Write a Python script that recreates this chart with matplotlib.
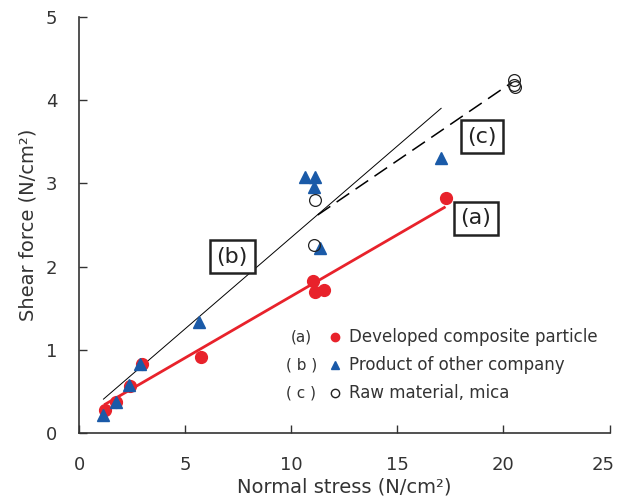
import matplotlib
matplotlib.use("Agg")
import matplotlib.pyplot as plt
import matplotlib.transforms as mtransforms

plt.rcParams['font.family'] = ['DejaVu Sans', 'Noto Sans CJK JP']

# (a) Developed composite particle
a_x = [1.22, 1.71, 2.38, 2.98, 5.76, 11.04, 11.09, 11.54, 17.31]
a_y = [0.28, 0.38, 0.57, 0.83, 0.92, 1.83, 1.70, 1.72, 2.82]
# (b) Product of other company
b_x = [1.12, 1.71, 2.36, 2.88, 5.66, 10.64, 11.12, 11.07, 11.34, 17.06]
b_y = [0.22, 0.38, 0.58, 0.83, 1.34, 3.08, 3.08, 2.96, 2.22, 3.30]
# (c) Raw material, mica
c_x = [11.12, 11.07, 20.49, 20.51, 20.55]
c_y = [2.80, 2.26, 4.24, 4.18, 4.16]

# fitted lines (end points)
a_line_x = [1.23, 17.21]
a_line_y = [0.35, 2.71]
b_line_x = [1.14, 17.06]
b_line_y = [0.41, 3.90]
c_line_x = [11.24, 20.39]
c_line_y = [2.62, 4.21]

x_ticks = [0, 5, 10, 15, 20, 25]
y_ticks = [0, 1, 2, 3, 4, 5]

red = '#e8222b'
blue = '#1a5aa8'
txt = '#333333'

fig = plt.figure(figsize=(6.19, 5.04), dpi=100)
ax = fig.add_axes([0.1281, 0.1403, 0.8566, 0.8266])

ax.plot(b_line_x, b_line_y, color='black', lw=0.7, zorder=2)
ax.plot(c_line_x, c_line_y, color='black', lw=1.1, dashes=(10, 5), zorder=2)
ax.plot(a_line_x, a_line_y, color=red, lw=2.0, zorder=2)

ax.plot(a_x, a_y, 'o', color=red, ms=8.5, mec=red, zorder=3)
ax.plot(b_x, b_y, '^', color=blue, ms=8.5, mec=blue, zorder=4)
ax.plot(c_x, c_y, 'o', mfc='none', mec='#222222', mew=0.9, ms=8.5, zorder=5)

box = dict(boxstyle='square,pad=0.3', fc='white', ec='#222222', lw=1.8)
ax.text(7.21, 2.12, '(b)', fontsize=16, ha='center', va='center', bbox=box, color='#222222', zorder=6)
ax.text(18.99, 3.56, '(c)', fontsize=16, ha='center', va='center', bbox=box, color='#222222', zorder=6)
ax.text(18.70, 2.58, '(a)', fontsize=16, ha='center', va='center', bbox=box, color='#222222', zorder=6)

# legend built by hand
leg_labels = ['(a)', '( b )', '( c )']
leg_texts = ['Developed composite particle', 'Product of other company', 'Raw material, mica']
leg_y = [1.156, 0.82, 0.486]
leg_lab_x = 10.46
leg_mark_x = 12.06
leg_text_x = 12.72
ax.plot([leg_mark_x], [leg_y[0]], 'o', color=red, ms=6, zorder=6)
ax.plot([leg_mark_x], [leg_y[1]], '^', color=blue, ms=6, zorder=6)
ax.plot([leg_mark_x], [leg_y[2]], 'o', mfc='none', mec='#222222', ms=6, zorder=6)
for lab, t, yy in zip(leg_labels, leg_texts, leg_y):
    ax.text(leg_lab_x, yy, lab, fontsize=11, ha='center', va='center', color=txt)
    ax.text(leg_text_x, yy, t, fontsize=12, ha='left', va='center', color=txt)

ax.set_xlim(0, 25)
ax.set_ylim(0, 5)
ax.set_xticks(x_ticks)
ax.set_yticks(y_ticks)
ax.spines['top'].set_visible(False)
ax.spines['right'].set_visible(False)
for s in ('left', 'bottom'):
    ax.spines[s].set_color(txt)
    ax.spines[s].set_linewidth(1.2)
ax.tick_params(direction='in', length=6, width=1, colors=txt, labelsize=13)
ax.tick_params(axis='x', pad=16)
ax.tick_params(axis='y', pad=16)
ax.set_xlabel('Normal stress (N/cm²)', fontsize=14, color=txt, labelpad=3)
ax.set_ylabel('Shear force (N/cm²)', fontsize=14, color=txt, labelpad=6)

# nudge the last x tick label a little left so it stays inside the figure
last = ax.get_xticklabels()[-1]
last.set_transform(last.get_transform() + mtransforms.ScaledTranslation(-6 / 100, 0, fig.dpi_scale_trans))

fig.savefig('out.png', dpi=100)
